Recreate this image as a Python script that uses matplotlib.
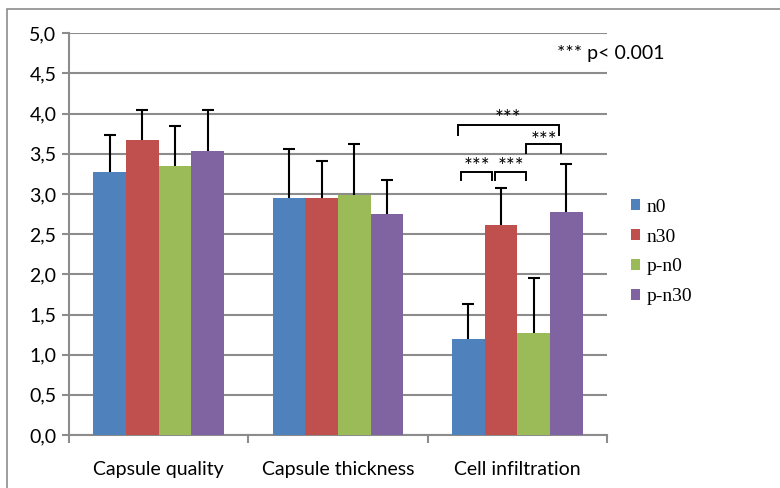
import matplotlib
matplotlib.use("Agg")
import matplotlib.pyplot as plt
from matplotlib.patches import Patch, Rectangle
import numpy as np

categories = ["Capsule quality", "Capsule thickness", "Cell infiltration"]
series = ["n0", "n30", "p-n0", "p-n30"]
means = {
    "n0":    [3.27, 2.95, 1.20],
    "n30":   [3.67, 2.95, 2.61],
    "p-n0":  [3.35, 2.99, 1.27],
    "p-n30": [3.54, 2.75, 2.78],
}
upper_err = {
    "n0":    [0.46, 0.61, 0.43],
    "n30":   [0.38, 0.46, 0.46],
    "p-n0":  [0.50, 0.63, 0.69],
    "p-n30": [0.51, 0.42, 0.59],
}
colors = ["#4F81BD", "#C0504D", "#9BBB59", "#8064A2"]
yticks = np.arange(0, 5.01, 0.5)
ytick_labels = [f"{v:.1f}".replace(".", ",") for v in yticks]

# significance brackets within "Cell infiltration":
# (bar i, bar j, bracket top, leg bottom, text y, left inset, right inset)
brackets = [
    (0, 3, 3.86, 3.73, 3.93, -0.02, 0.0),
    (2, 3, 3.62, 3.51, 3.66, 0.0, -0.01),
    (0, 1, 3.28, 3.18, 3.34, 0.0, 0.008),
    (1, 2, 3.28, 3.18, 3.34, 0.008, 0.0),
]

grey = "#8c8c8c"
sans = ["Lato", "DejaVu Sans"]
serif = ["Liberation Serif", "DejaVu Serif"]

fig = plt.figure(figsize=(7.8, 4.88), dpi=100)
ax = fig.add_axes([0.0885, 0.1086, 0.6897, 0.8231])

# outer chart frame
fig.patches.append(Rectangle((7 / 780, -0.05), 1.2, 1 - 9 / 488 + 0.05,
                             transform=fig.transFigure, fill=False,
                             edgecolor=grey, linewidth=1.2))

n = len(series)
bw = 0.182
start = 0.5 - n * bw / 2
x0 = np.arange(len(categories))
centers = {}
for k, s in enumerate(series):
    xs = x0 + start + (k + 0.5) * bw
    centers[s] = xs
    ax.bar(xs, means[s], width=bw, color=colors[k], zorder=3, label=s)
    _, caps, _ = ax.errorbar(xs, means[s], yerr=[np.zeros(len(xs)), upper_err[s]],
                             fmt="none", ecolor="black", elinewidth=1.5, capsize=4,
                             capthick=1.5, zorder=4)
    caps[0].remove()  # upper-only error bars: drop the cap at the bar top

ax.set_xlim(0, 3)
ax.set_ylim(0, 5)
ax.set_yticks(yticks)
ax.set_yticklabels(ytick_labels, fontsize=14, family=sans)
ax.yaxis.grid(True, color=grey, linewidth=1.5, zorder=0)
ax.set_axisbelow(True)
ax.tick_params(axis="y", length=5, width=1.5, color=grey, direction="out", pad=4)

ax.set_xticks([0, 1, 2, 3])
ax.set_xticklabels([])
ax.set_xticks(x0 + 0.5, minor=True)
ax.set_xticklabels(categories, minor=True, fontsize=14, family=sans)
ax.tick_params(axis="x", which="major", length=6, width=1.5, color=grey, direction="out")
ax.tick_params(axis="x", which="minor", length=0, pad=19)

for side in ("top", "right"):
    ax.spines[side].set_visible(False)
for side in ("left", "bottom"):
    ax.spines[side].set_color(grey)
    ax.spines[side].set_linewidth(1.5)

# significance markers for Cell infiltration
ci = 2
off = -0.04
for i, j, ytop, ybot, ytxt, li, ri in brackets:
    xa = centers[series[i]][ci] + off + li
    xb = centers[series[j]][ci] + off - ri
    ax.plot([xa, xa, xb, xb], [ybot, ytop, ytop, ybot], color="black",
            linewidth=1.4, zorder=5, solid_joinstyle="miter")
    ax.text((xa + xb) / 2, ytxt, "***", ha="center", va="center",
            fontsize=15, family=sans, zorder=5)

fig.text(557 / 780, 1 - 53 / 488, "*** p< 0.001", ha="left", va="center",
         fontsize=14, family=sans)

handles = [Patch(facecolor=c, edgecolor="none") for c in colors]
leg = fig.legend(handles, series, loc="upper left",
                 bbox_to_anchor=(621 / 780, 1 - 189 / 488),
                 frameon=False, borderpad=0, handlelength=0.5, handleheight=0.5,
                 handletextpad=0.3, labelspacing=0.66,
                 prop={"family": serif, "size": 14})

fig.savefig("out.png", dpi=100)
